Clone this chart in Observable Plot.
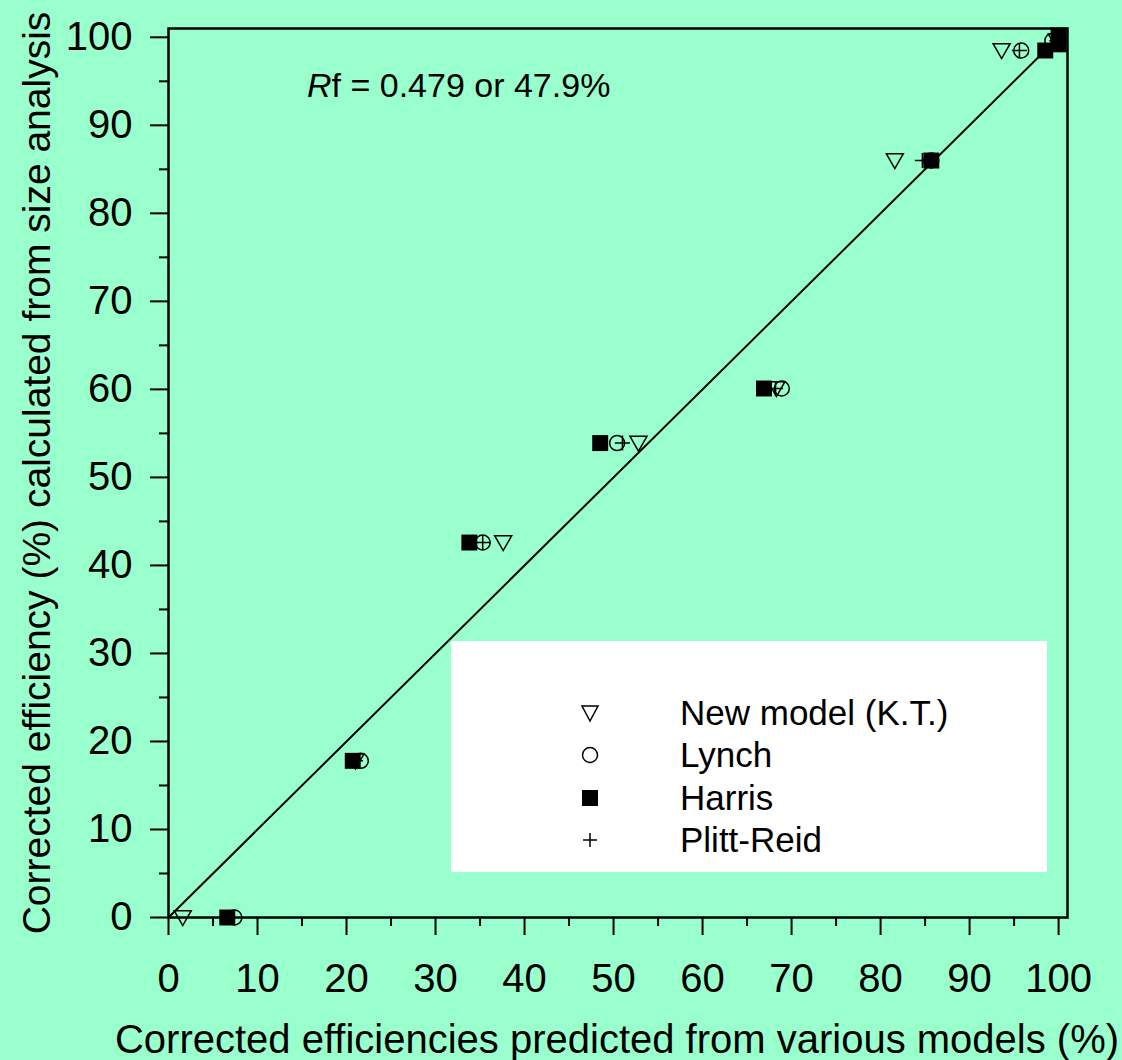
<!DOCTYPE html>
<html><head><meta charset="utf-8">
<script src="https://cdn.jsdelivr.net/npm/d3@7"></script>
<script src="https://cdn.jsdelivr.net/npm/@observablehq/plot@0.6"></script>
<style>
body{margin:0;background:#99ffcc;}
#wrap{position:relative;width:1122px;height:1060px;font-family:"Liberation Sans",Arial,sans-serif;color:#000;}
.ov{position:absolute;white-space:nowrap;}
</style></head><body><div id="wrap"></div>
<script>
// Measured efficiencies (y) and model predictions (x), %
const newModelX = [1.6, 21.0, 37.6, 52.8, 68.3, 81.6, 93.6, 99.8];
const newModelY = [0, 17.8, 42.6, 53.9, 60.1, 86.0, 98.5, 99.6];
const lynchX = [7.4, 21.6, 35.3, 50.4, 68.9, 85.7, 95.8, 99.3];
const lynchY = [0, 17.8, 42.6, 53.9, 60.1, 86.0, 98.5, 99.6];
const harrisX = [6.6, 20.7, 33.8, 48.5, 66.9, 85.7, 98.5, 100, 100];
const harrisY = [0, 17.8, 42.6, 53.9, 60.1, 86.0, 98.5, 99.2, 100.2];
const plittX = [6.6, 21.0, 35.3, 51.0, 68.2, 84.7, 95.6, 99.8];
const plittY = [0, 17.8, 42.6, 53.9, 60.1, 86.0, 98.5, 99.6];
const lineX = [0, 100];
const lineY = [0, 100];
const majorTicks = [0, 10, 20, 30, 40, 50, 60, 70, 80, 90, 100];
const minorTicks = [5, 15, 25, 35, 45, 55, 65, 75, 85, 95];
const legendLabels = ["New model (K.T.)", "Lynch", "Harris", "Plitt-Reid"];
const xTitle = "Corrected efficiencies predicted from various models (%)";
const yTitle = "Corrected efficiency (%) calculated from size analysis";

const zip = (xs, ys) => xs.map((x, i) => ({x, y: ys[i]}));

const triDown = {draw(ctx, size) {
  const r = Math.sqrt(size / Math.PI);
  ctx.moveTo(-r, -0.8 * r); ctx.lineTo(r, -0.8 * r); ctx.lineTo(0, 0.95 * r); ctx.closePath();
}};
const plus = {draw(ctx, size) {
  const r = Math.sqrt(size / Math.PI);
  ctx.moveTo(-r, 0); ctx.lineTo(r, 0); ctx.moveTo(0, -r); ctx.lineTo(0, r);
}};

const chart = Plot.plot({
  width: 1122, height: 1060,
  marginLeft: 168, marginTop: 28, marginRight: 55, marginBottom: 143,
  x: {domain: [0, 101]},
  y: {domain: [0, 101]},
  style: {background: "#99ffcc", fontFamily: "'Liberation Sans', Arial, sans-serif", fontSize: "40px", color: "#000"},
  marks: [
    Plot.axisX({ticks: minorTicks, tickSize: 9, strokeWidth: 2, text: null, label: null}),
    Plot.axisX({ticks: majorTicks, tickSize: 18, tickPadding: 28, strokeWidth: 2, label: null, fontSize: 40}),
    Plot.axisY({ticks: minorTicks, tickSize: 9, strokeWidth: 2, text: null, label: null}),
    Plot.axisY({ticks: majorTicks, tickSize: 18, tickPadding: 18, strokeWidth: 2, label: null, fontSize: 40}),
    Plot.line(zip(lineX, lineY), {x: "x", y: "y", stroke: "#000", strokeWidth: 2}),
    Plot.dot(zip(newModelX, newModelY), {x: "x", y: "y", symbol: triDown, r: 8.5, stroke: "#000", strokeWidth: 1.5, fill: "none"}),
    Plot.dot(zip(lynchX, lynchY), {x: "x", y: "y", symbol: "circle", r: 7.5, stroke: "#000", strokeWidth: 1.5, fill: "none"}),
    Plot.dot(zip(harrisX, harrisY), {x: "x", y: "y", symbol: "square", r: 9, fill: "#000", stroke: "none"}),
    Plot.dot(zip(plittX, plittY), {x: "x", y: "y", symbol: plus, r: 7.5, stroke: "#000", strokeWidth: 1.5, fill: "none"}),
    Plot.frame({stroke: "#000", strokeWidth: 2.5})
  ]
});
const wrap = document.getElementById("wrap");
wrap.appendChild(chart);

// annotation
const rf = document.createElement("div");
rf.className = "ov";
rf.style.cssText = "left:307px;top:66px;font-size:34px;";
rf.innerHTML = "<i>R</i>f = 0.479 or 47.9%";
wrap.appendChild(rf);

// legend
const lg = document.createElement("div");
lg.className = "ov";
lg.style.cssText = "left:451px;top:641px;width:596px;height:231px;background:#fff;";
const syms = [
  '<path d="M-8,-7 L8,-7 L0,8 Z" fill="none" stroke="#000" stroke-width="1.5"/>',
  '<circle r="7.5" fill="none" stroke="#000" stroke-width="1.5"/>',
  '<rect x="-8" y="-8" width="16" height="16" fill="#000"/>',
  '<path d="M-7,0 L7,0 M0,-7 L0,7" stroke="#000" stroke-width="1.5"/>'
];
legendLabels.forEach((t, i) => {
  const row = document.createElement("div");
  row.className = "ov";
  const cy = 72 + i * 42.3;
  row.style.cssText = `left:0;top:${cy - 20}px;height:40px;width:596px;font-size:35px;line-height:40px;`;
  row.innerHTML = `<svg width="30" height="30" style="position:absolute;left:124px;top:5px" viewBox="-15 -15 30 30">${syms[i]}</svg><span style="position:absolute;left:229px;top:0">${t}</span>`;
  lg.appendChild(row);
});
wrap.appendChild(lg);

// axis titles
const xt = document.createElement("div");
xt.className = "ov";
xt.style.cssText = "left:0;width:1234px;text-align:center;top:1016px;font-size:40px;line-height:46px;";
xt.textContent = xTitle;
wrap.appendChild(xt);
const yt = document.createElement("div");
yt.className = "ov";
yt.style.cssText = "left:37px;top:473px;font-size:39px;line-height:46px;transform:translate(-50%,-50%) rotate(-90deg);";
yt.textContent = yTitle;
wrap.appendChild(yt);
</script></body></html>
